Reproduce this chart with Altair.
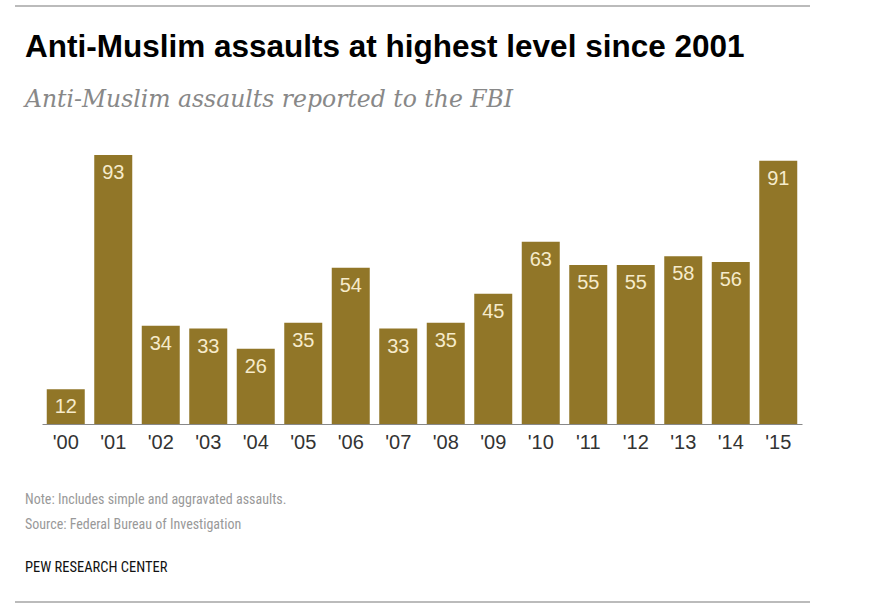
import altair as alt
import pandas as pd

years = ["'00", "'01", "'02", "'03", "'04", "'05", "'06", "'07", "'08", "'09", "'10", "'11", "'12", "'13", "'14", "'15"]
assaults = [12, 93, 34, 33, 26, 35, 54, 33, 35, 45, 63, 55, 55, 58, 56, 91]

title_text = "Anti-Muslim assaults at highest level since 2001"
subtitle_text = "Anti-Muslim assaults reported to the FBI"
note_text = "Note: Includes simple and aggravated assaults."
source_text = "Source: Federal Bureau of Investigation"
brand_text = "PEW RESEARCH CENTER"

df = pd.DataFrame({"year": years, "n": assaults})

BAR = "#917628"
NARROW = "Liberation Sans Narrow, Arial Narrow, Roboto Condensed, Liberation Sans, sans-serif"

base = alt.Chart(df).encode(
    x=alt.X("year:N", sort=years,
            scale=alt.Scale(paddingInner=0.2, paddingOuter=0.1),
            axis=alt.Axis(title=None, labelAngle=0, ticks=False, domainColor="#888",
                          labelFontSize=20, labelColor="#333", labelFont="Liberation Sans",
                          labelPadding=8)),
    y=alt.Y("n:Q", scale=alt.Scale(domain=[0, 93], nice=False),
            axis=None),
)

bars = base.mark_bar(color=BAR)
labels = base.mark_text(baseline="top", dy=8, fontSize=20, color="#f6ebcb",
                        font="Liberation Sans").encode(text="n:Q")


def txt(s, x, y, **kw):
    return alt.Chart(alt.Data(values=[{}])).mark_text(align="left", baseline="alphabetic", **kw).encode(
        x=alt.value(x), y=alt.value(y), text=alt.value(s))


def hline(y):
    return alt.Chart(alt.Data(values=[{}])).mark_rule(color="#bbb", strokeWidth=2).encode(
        x=alt.value(15 - 42), x2=alt.value(810 - 42), y=alt.value(y))


OX, OY = 42, 155
layers = [
    hline(6 - OY),
    hline(602 - OY),
    txt(title_text, 25 - OX, 57 - OY, fontSize=31.5, fontWeight="bold", font="Liberation Sans", color="#000"),
    txt(subtitle_text, 25 - OX, 107 - OY, fontSize=23.5, fontStyle="italic", font="DejaVu Serif", color="#888"),
    bars,
    labels,
    txt(note_text, 25 - OX, 504 - OY, fontSize=14, font=NARROW, color="#999"),
    txt(source_text, 25 - OX, 529 - OY, fontSize=14, font=NARROW, color="#999"),
    txt(brand_text, 25 - OX, 572 - OY, fontSize=14.5, font=NARROW, color="#111"),
]

chart = alt.layer(*layers).properties(
    width=760, height=269,
    autosize=alt.AutoSizeParams(type="none"),
    padding={"left": OX, "top": OY, "right": 880 - OX - 760, "bottom": 604 - OY - 269},
).configure_view(stroke=None)

chart.save("out.html", embed_options={"renderer": "svg", "actions": False})
